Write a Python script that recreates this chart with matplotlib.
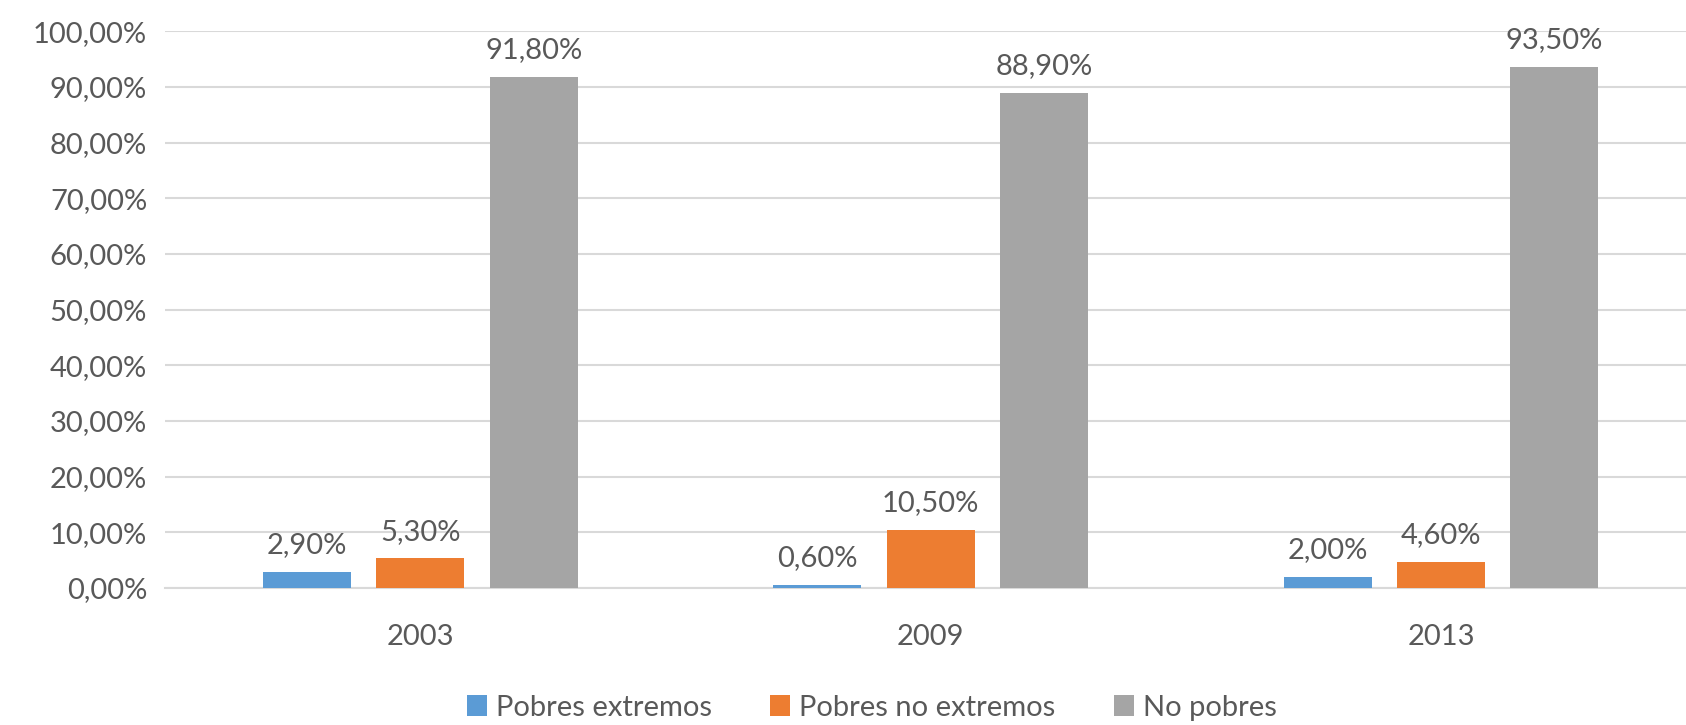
import matplotlib.pyplot as plt
import numpy as np

plt.rcParams['font.family'] = ['Lato', 'DejaVu Sans']

years = ["2003", "2009", "2013"]
series = ["Pobres extremos", "Pobres no extremos", "No pobres"]
extremos = [2.9, 0.6, 2.0]
no_extremos = [5.3, 10.5, 4.6]
no_pobres = [91.8, 88.9, 93.5]
colors = ['#5B9BD5', '#ED7D31', '#A5A5A5']

fig = plt.figure(figsize=(16.86, 7.25), dpi=100)
ax = fig.add_axes([0.098, 0.189, 0.902, 0.768])

x = np.arange(len(years))
width = 0.1725
step = 0.222
txt = '#595959'
fs = 21

for i, (vals, name) in enumerate(zip([extremos, no_extremos, no_pobres], series)):
    pos = x + (i - 1) * step
    bars = ax.bar(pos, vals, width, color=colors[i], label=name, zorder=3)
    for b, v in zip(bars, vals):
        ax.annotate(f"{v:.2f}".replace('.', ',') + "%",
                    (b.get_x() + b.get_width() / 2, v),
                    xytext=(0, 10), textcoords='offset points',
                    ha='center', va='bottom', fontsize=fs, color=txt)

ax.set_ylim(0, 100)
ax.set_xlim(-0.5, 2.48)
ax.set_yticks(np.arange(0, 101, 10))
ax.set_yticklabels([f"{t},00%" for t in range(0, 101, 10)])
ax.set_xticks(x)
ax.set_xticklabels(years)
ax.tick_params(axis='both', length=0, labelsize=fs, labelcolor=txt)
ax.tick_params(axis='y', pad=13)
ax.tick_params(axis='x', pad=26)
ax.yaxis.grid(True, color='#D9D9D9', linewidth=1.5, zorder=0)
for s in ['top', 'right', 'left']:
    ax.spines[s].set_visible(False)
ax.spines['bottom'].set_color('#D9D9D9')
ax.spines['bottom'].set_linewidth(1.5)

leg = fig.legend(loc='center', bbox_to_anchor=(0.517, 0.024), ncol=3, frameon=False,
                 fontsize=fs, handlelength=0.7, handleheight=0.7,
                 columnspacing=2.0, handletextpad=0.3)
for t in leg.get_texts():
    t.set_color(txt)

fig.savefig("out.png", dpi=100)
